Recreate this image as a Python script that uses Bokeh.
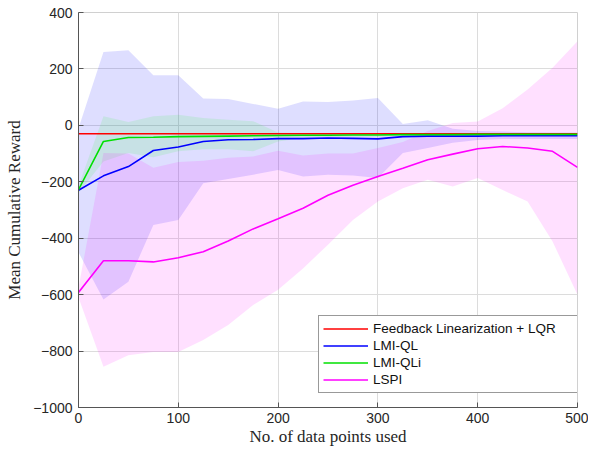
from bokeh.plotting import figure
from bokeh.models import FixedTicker, Legend, LegendItem
from bokeh.embed import file_html
from bokeh.resources import INLINE

x = [0, 25, 50, 75, 100, 125, 150, 175, 200, 225, 250, 275, 300, 325, 350, 375, 400, 425, 450, 475, 500]

fl_lqr = [-30] * len(x)

lmi_ql = [-230, -179, -146, -89, -77, -57, -51, -50, -47, -47, -45, -46, -48, -40, -38, -38, -38, -37, -37, -37, -37]
lmi_ql_hi = [-10, 260, 266, 178, 178, 95, 93, 76, 59, 85, 83, 88, 97, 5, 18, -12, -20, -22, -24, -25, -25]
lmi_ql_lo = [-450, -617, -554, -353, -335, -205, -190, -175, -158, -181, -175, -178, -187, -98, -80, -62, -52, -48, -48, -48, -48]

lmi_qli = [-228, -57, -43, -42, -40, -39, -38, -37, -36, -35, -35, -34, -34, -33, -33, -33, -32, -32, -32, -32, -32]
lmi_qli_hi = [-215, 32, 12, 32, 38, 26, 20, 15, -25, -28, -28, -28, -28, -28, -28, -28, -28, -28, -28, -28, -28]
lmi_qli_lo = [-240, -128, -98, -113, -92, -85, -85, -92, -57, -45, -42, -40, -40, -38, -38, -37, -36, -36, -36, -36, -36]

lspi = [-592, -480, -480, -484, -469, -448, -410, -367, -331, -294, -248, -212, -181, -152, -122, -102, -83, -75, -80, -92, -149]
lspi_hi = [-575, -98, -100, -150, -130, -125, -115, -110, -90, -107, -100, -100, -80, -59, -20, 8, 14, 61, 127, 204, 298]
lspi_lo = [-610, -856, -815, -803, -803, -761, -708, -637, -583, -507, -423, -335, -270, -223, -193, -217, -187, -229, -270, -412, -600]

x_ticks = [0, 100, 200, 300, 400, 500]
y_ticks = [-1000, -800, -600, -400, -200, 0, 200, 400]

p = figure(width=588, height=450, x_range=(0, 500), y_range=(-1000, 400),
           output_backend="svg", toolbar_location=None,
           min_border_left=78, min_border_right=11, min_border_top=12, min_border_bottom=43)

p.varea(x=x, y1=lmi_ql_lo, y2=lmi_ql_hi, fill_color="blue", fill_alpha=0.13)
p.varea(x=x, y1=lmi_qli_lo, y2=lmi_qli_hi, fill_color="#00ff00", fill_alpha=0.1)
p.varea(x=x, y1=lspi_lo, y2=lspi_hi, fill_color="magenta", fill_alpha=0.12)

r1 = p.line(x, fl_lqr, line_color="#ff0000", line_width=1.6)
r2 = p.line(x, lmi_ql, line_color="#0000ff", line_width=1.6)
r3 = p.line(x, lmi_qli, line_color="#00e000", line_width=1.6)
r4 = p.line(x, lspi, line_color="#ff00ff", line_width=1.6)

legend = Legend(items=[
    LegendItem(label="Feedback Linearization + LQR", renderers=[r1]),
    LegendItem(label="LMI-QL", renderers=[r2]),
    LegendItem(label="LMI-QLi", renderers=[r3]),
    LegendItem(label="LSPI", renderers=[r4]),
], location=(240, 14))
legend.label_text_font = "Liberation Sans"
legend.label_text_font_size = "13.5px"
legend.label_text_color = "#111111"
legend.glyph_width = 45
legend.glyph_height = 17
legend.label_height = 17
legend.label_width = 200
legend.label_standoff = 5
legend.spacing = 0
legend.padding = 4
legend.margin = 0
legend.border_line_color = "#333333"
legend.border_line_width = 1
legend.background_fill_alpha = 1.0
p.add_layout(legend)

p.xaxis.ticker = FixedTicker(ticks=x_ticks)
p.yaxis.ticker = FixedTicker(ticks=y_ticks)
p.xgrid.ticker = FixedTicker(ticks=x_ticks)
p.ygrid.ticker = FixedTicker(ticks=y_ticks)
p.grid.grid_line_color = "#dcdcdc"
p.grid.grid_line_width = 1

for ax in (p.xaxis, p.yaxis):
    ax.axis_line_color = "#555555"
    ax.major_tick_line_color = "#555555"
    ax.major_tick_in = 5
    ax.major_tick_out = 0
    ax.minor_tick_line_color = None
    ax.major_label_text_font = "Liberation Sans"
    ax.major_label_text_font_size = "14px"
    ax.major_label_text_color = "#262626"
    ax.axis_label_text_font = "Liberation Serif"
    ax.axis_label_text_font_size = "17px"
    ax.axis_label_text_font_style = "normal"
    ax.axis_label_text_color = "#262626"

p.xaxis.axis_label = "No. of data points used"
p.yaxis.axis_label = "Mean Cumulative Reward"
p.xaxis.major_label_standoff = 5
p.yaxis.major_label_standoff = 6
p.xaxis.axis_label_standoff = 1
p.yaxis.axis_label_standoff = 6

p.outline_line_color = "#d0d0d0"
p.outline_line_width = 1
p.background_fill_color = "white"
p.border_fill_color = "white"

open("out.html", "w").write(file_html(p, INLINE))
